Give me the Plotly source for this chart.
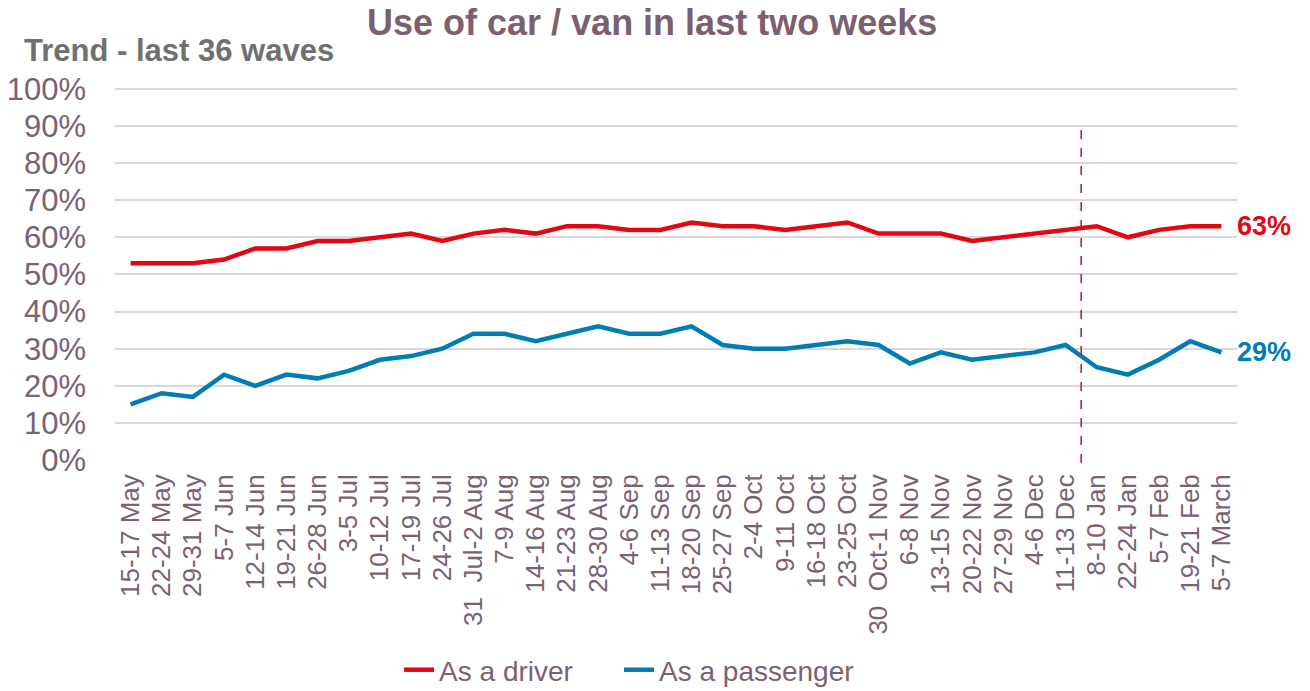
import plotly.graph_objects as go

categories = ["15-17 May", "22-24 May", "29-31 May", "5-7 Jun", "12-14 Jun", "19-21 Jun",
              "26-28 Jun", "3-5 Jul", "10-12 Jul", "17-19 Jul", "24-26 Jul", "31  Jul-2 Aug",
              "7-9 Aug", "14-16 Aug", "21-23 Aug", "28-30 Aug", "4-6 Sep", "11-13 Sep",
              "18-20 Sep", "25-27 Sep", "2-4 Oct", "9-11 Oct", "16-18 Oct", "23-25 Oct",
              "30  Oct-1 Nov", "6-8 Nov", "13-15 Nov", "20-22 Nov", "27-29 Nov", "4-6 Dec",
              "11-13 Dec", "8-10 Jan", "22-24 Jan", "5-7 Feb", "19-21 Feb", "5-7 March"]

driver = [53, 53, 53, 54, 57, 57, 59, 59, 60, 61, 59, 61, 62, 61, 63, 63, 62, 62,
          64, 63, 63, 62, 63, 64, 61, 61, 61, 59, 60, 61, 62, 63, 60, 62, 63, 63]
passenger = [15, 18, 17, 23, 20, 23, 22, 24, 27, 28, 30, 34, 34, 32, 34, 36, 34, 34,
             36, 31, 30, 30, 31, 32, 31, 26, 29, 27, 28, 29, 31, 25, 23, 27, 32, 29]

series_names = ["As a driver", "As a passenger"]
colors = ["#e30613", "#007db3"]
legend_ids = ["legend", "legend2"]
legend_x = [0.2532, 0.4492]
y_ticks = list(range(0, 101, 10))
y_tick_labels = [f"{v}%" for v in y_ticks]
break_position = 30.5  # between 11-13 Dec and 8-10 Jan

label_color = "#7a6272"
font_family = "Liberation Sans, Arial, sans-serif"
bold_family = "Liberation Sans Narrow, Arial Narrow, Liberation Sans, sans-serif"

fig = go.Figure()
x_idx = list(range(len(categories)))
for name, vals, col, lg in zip(series_names, [driver, passenger], colors, legend_ids):
    fig.add_trace(go.Scatter(x=x_idx, y=vals, mode="lines", name=name, legend=lg,
                             line=dict(color=col, width=4.5)))
    fig.add_annotation(x=x_idx[-1], y=vals[-1], text=f"<b>{vals[-1]}%</b>",
                       showarrow=False, xanchor="left", yanchor="middle", xshift=14,
                       font=dict(size=27, color=col, family=font_family))

fig.add_shape(type="line", x0=break_position, x1=break_position, xref="x",
              y0=-0.008, y1=0.889, yref="paper",
              line=dict(color="#c8102e", width=1.5, dash="dash"))

legend_style = dict(orientation="h", xanchor="left", y=-0.563, yanchor="middle",
                    bgcolor="rgba(0,0,0,0)",
                    font=dict(size=28, color=label_color, family=font_family))

# page has an 8px body margin; figure is sized/offset to compensate
fig.update_layout(
    width=1302, height=683,
    paper_bgcolor="white", plot_bgcolor="white",
    margin=dict(l=107, r=73, t=79, b=231, autoexpand=False),
    xaxis=dict(tickmode="array", tickvals=x_idx, ticktext=categories, tickangle=-90,
               range=[-0.5, len(categories) - 0.5], showgrid=False, zeroline=False,
               showline=False, ticks="", automargin=False, ticklabelstandoff=8,
               tickfont=dict(size=26, color=label_color, family=font_family)),
    yaxis=dict(range=[0, 100.5], tickvals=y_ticks, ticktext=y_tick_labels,
               showgrid=True, gridcolor="#ddd6da", gridwidth=1.5, zeroline=False,
               ticks="", automargin=False, ticklabelstandoff=28,
               tickfont=dict(size=31, color=label_color, family=font_family)),
    legend=dict(x=legend_x[0], **legend_style),
    legend2=dict(x=legend_x[1], **legend_style),
    showlegend=True,
)

fig.add_annotation(x=0.4786, y=1.1716, xref="paper", yref="paper",
                   text="<b>Use of car / van in last two weeks</b>", showarrow=False,
                   xanchor="center", yanchor="middle",
                   font=dict(size=36, color="#7b6070", family=bold_family))

fig.add_annotation(x=-0.0829, y=1.099, xref="paper", yref="paper",
                   text="<b>Trend - last 36 waves</b>", showarrow=False,
                   xanchor="left", yanchor="middle",
                   font=dict(size=31, color="#707070", family=bold_family))

fig.write_html("out.html")
